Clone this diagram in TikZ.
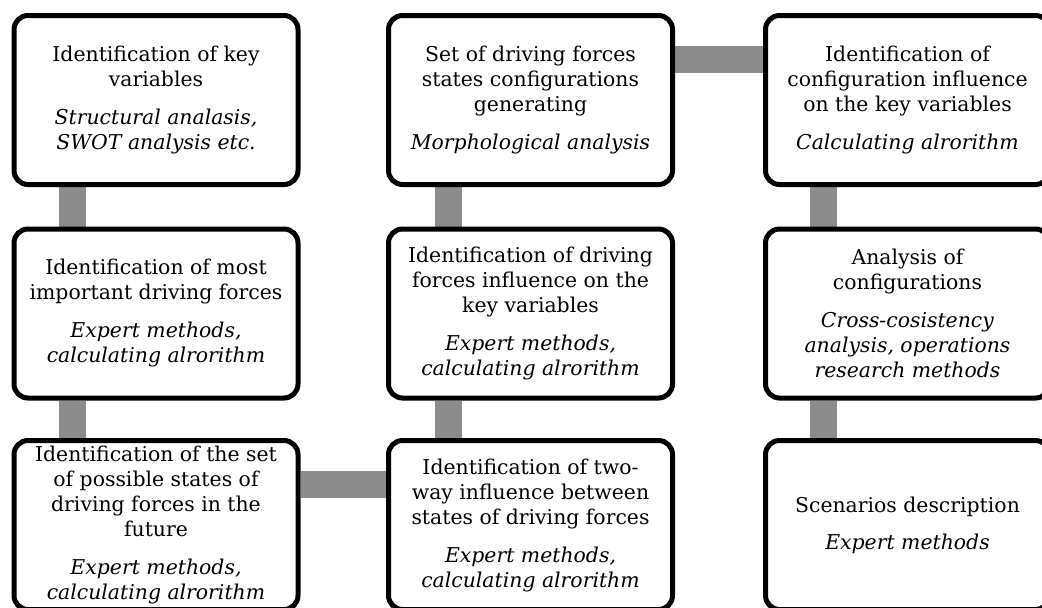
\documentclass[tikz,border=0pt]{standalone}
\usepackage{fontspec}
\setmainfont{DejaVu Serif}
\usetikzlibrary{backgrounds}
\definecolor{linkgray}{RGB}{140,140,140}
\tikzset{
    stage/.style={draw=black, line width=2.5pt, rounded corners=7pt, fill=white, minimum width=142pt, minimum height=84.5pt, inner sep=0pt},
    stagetext/.style={align=center, inner sep=0pt, font=\fontsize{10.2}{12.5}\selectfont},
    link/.style={draw=linkgray, line width=13.5pt}
}

\begin{document}
\begin{tikzpicture}[x=0.5pt,y=-0.5pt]
    \useasboundingbox (0,0) rectangle (1042,607);
    \node[stage] (keyvar) at (156,100) {};
    \node[stage] (drivf) at (156,313.5) {};
    \node[stage] (states) at (156,525) {};
    \node[stage] (setcfg) at (530.5,100) {};
    \node[stage] (drivinf) at (530.5,313.5) {};
    \node[stage] (twoway) at (530.5,525) {};
    \node[stage] (cfginf) at (907.5,100) {};
    \node[stage] (anacfg) at (907.5,313.5) {};
    \node[stage] (scen) at (907.5,525) {};
    \node[stagetext] (keyvar-t) at (keyvar) {Identification of key\\variables\\[6.5pt]\textit{Structural analasis,}\\\textit{SWOT analysis etc.}};
    \node[stagetext] (drivf-t) at (drivf) {Identification of most\\important driving forces\\[6.5pt]\textit{Expert methods,}\\\textit{calculating alrorithm}};
    \node[stagetext] (states-t) at (states) {Identification of the set\\of possible states of\\driving forces in the\\future\\[6.5pt]\textit{Expert methods,}\\\textit{calculating alrorithm}};
    \node[stagetext] (setcfg-t) at (setcfg) {Set of driving forces\\states configurations\\generating\\[6.5pt]\textit{Morphological analysis}};
    \node[stagetext] (drivinf-t) at (drivinf) {Identification of driving\\forces influence on the\\key variables\\[6.5pt]\textit{Expert methods,}\\\textit{calculating alrorithm}};
    \node[stagetext] (twoway-t) at (twoway) {Identification of two-\\way influence between\\states of driving forces\\[6.5pt]\textit{Expert methods,}\\\textit{calculating alrorithm}};
    \node[stagetext] (cfginf-t) at (cfginf) {Identification of\\configuration influence\\on the key variables\\[6.5pt]\textit{Calculating alrorithm}};
    \node[stagetext] (anacfg-t) at (anacfg) {Analysis of\\configurations\\[6.5pt]\textit{Cross-cosistency}\\\textit{analysis, operations}\\\textit{research methods}};
    \node[stagetext] (scen-t) at (scen) {Scenarios description\\[6pt]\textit{Expert methods}};
    \begin{scope}[on background layer]
    \draw[link] ([xshift=-42pt]keyvar.south) -- ([xshift=-42pt]drivf.north);
    \draw[link] ([xshift=-42pt]drivf.south) -- ([xshift=-42pt]states.north);
    \draw[link] ([yshift=20.5pt]states.east) -- ([yshift=20.5pt]twoway.west);
    \draw[link] ([xshift=-41pt]twoway.north) -- ([xshift=-41pt]drivinf.south);
    \draw[link] ([xshift=-41pt]drivinf.north) -- ([xshift=-41pt]setcfg.south);
    \draw[link] ([yshift=20.5pt]setcfg.east) -- ([yshift=20.5pt]cfginf.west);
    \draw[link] ([xshift=-42pt]cfginf.south) -- ([xshift=-42pt]anacfg.north);
    \draw[link] ([xshift=-42pt]anacfg.south) -- ([xshift=-42pt]scen.north);
    \end{scope}
\end{tikzpicture}
\end{document}
